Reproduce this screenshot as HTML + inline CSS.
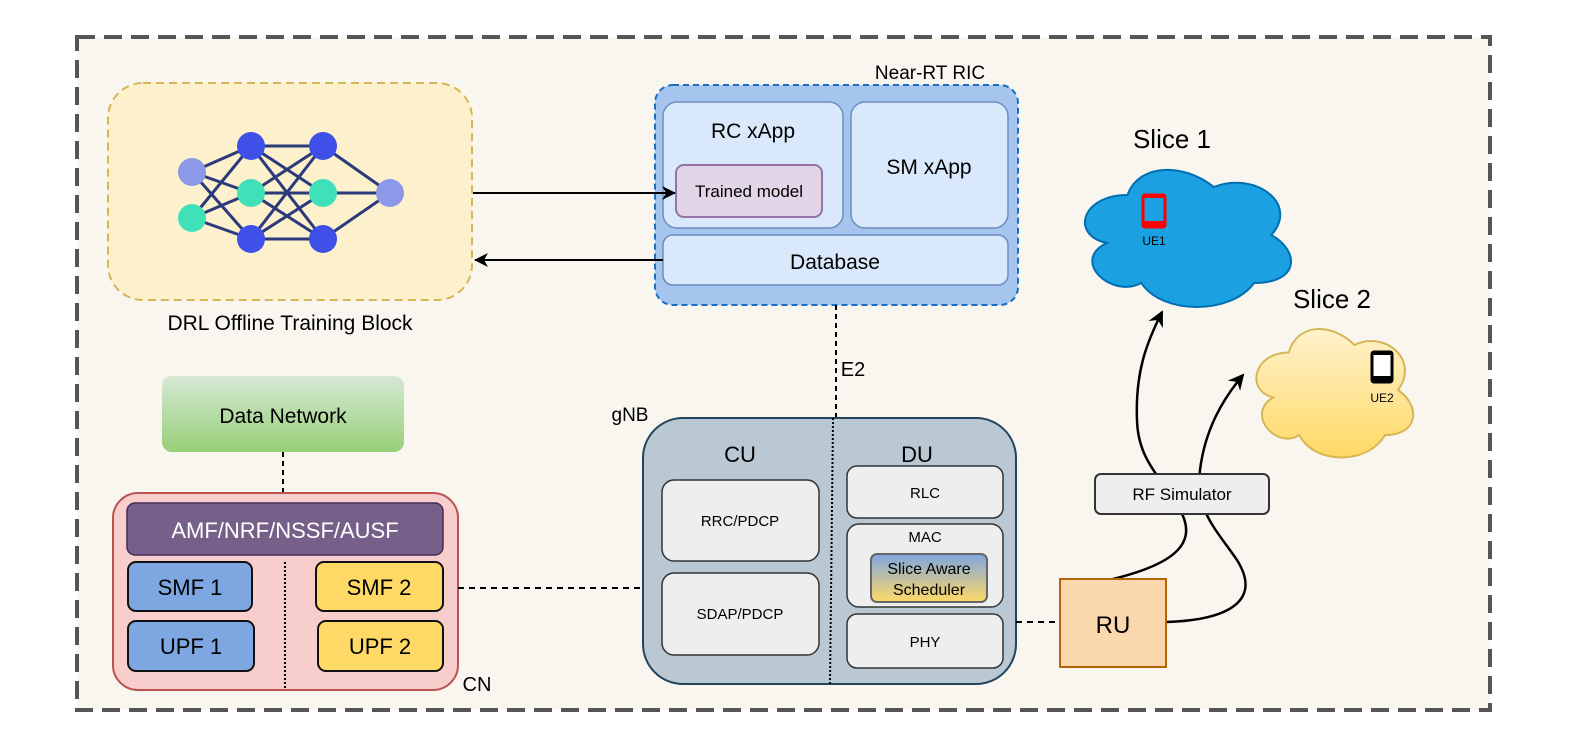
<!DOCTYPE html>
<html><head><meta charset="utf-8"><style>
html,body{margin:0;padding:0;background:#fff}
svg{display:block}
text{font-family:"Liberation Sans",sans-serif}
</style></head><body>
<svg width="1578" height="755" viewBox="0 0 1578 755" xmlns="http://www.w3.org/2000/svg">
<defs>
<marker id="ah" markerWidth="14" markerHeight="14" refX="13" refY="7" orient="auto" markerUnits="userSpaceOnUse"><path d="M0,0 L14,7 L0,14 L4,7 Z" fill="#000"/></marker>
<marker id="ah2" markerWidth="16" markerHeight="16" refX="14" refY="8" orient="auto" markerUnits="userSpaceOnUse"><path d="M0,0 L16,8 L0,16 L5,8 Z" fill="#000"/></marker>
<linearGradient id="gdn" x1="0" y1="0" x2="0" y2="1"><stop offset="0" stop-color="#d5e8d4"/><stop offset="1" stop-color="#97d077"/></linearGradient>
<linearGradient id="gsa" x1="0" y1="0" x2="0" y2="1"><stop offset="0" stop-color="#7ea6e0"/><stop offset="1" stop-color="#ffd966"/></linearGradient>
<linearGradient id="gs2" x1="0" y1="0" x2="0" y2="1"><stop offset="0" stop-color="#fff2cc"/><stop offset="1" stop-color="#ffd966"/></linearGradient>
</defs>
<rect width="1578" height="755" fill="#fff"/>
<rect x="77" y="37" width="1413" height="673" fill="#f8f6ee" stroke="#555" stroke-width="4" stroke-dasharray="18,9"/>

<rect x="108" y="83" width="364" height="217" rx="35" fill="#fdf0cc" stroke="#d6b656" stroke-width="2" stroke-dasharray="8,5"/>
<g stroke="#2b3a7a" stroke-width="3">
<path d="M192,172 L251,146 M192,172 L251,193 M192,172 L251,239 M192,218 L251,146 M192,218 L251,193 M192,218 L251,239"/>
<path d="M251,146 L323,146 M251,146 L323,193 M251,146 L323,239 M251,193 L323,146 M251,193 L323,193 M251,193 L323,239 M251,239 L323,146 M251,239 L323,193 M251,239 L323,239"/>
<path d="M323,146 L390,193 M323,193 L390,193 M323,239 L390,193"/>
</g>
<circle cx="192" cy="172" r="14" fill="#8c98e8"/><circle cx="192" cy="218" r="14" fill="#40e0b8"/>
<circle cx="251" cy="146" r="14" fill="#3e50e8"/><circle cx="251" cy="193" r="14" fill="#40e0b8"/><circle cx="251" cy="239" r="14" fill="#3e50e8"/>
<circle cx="323" cy="146" r="14" fill="#3e50e8"/><circle cx="323" cy="193" r="14" fill="#40e0b8"/><circle cx="323" cy="239" r="14" fill="#3e50e8"/>
<circle cx="390" cy="193" r="14" fill="#8c98e8"/>
<text x="290" y="330" font-size="21" text-anchor="middle">DRL Offline Training Block</text>

<text x="930" y="79" font-size="19" text-anchor="middle">Near-RT RIC</text>
<rect x="655" y="85" width="363" height="220" rx="18" fill="#a5c4ee" stroke="#1a6fc4" stroke-width="2" stroke-dasharray="6,4"/>
<rect x="663" y="102" width="180" height="126" rx="14" fill="#dae8fc" stroke="#6c8ebf" stroke-width="1.5"/>
<rect x="851" y="102" width="157" height="126" rx="14" fill="#dae8fc" stroke="#6c8ebf" stroke-width="1.5"/>
<rect x="663" y="235" width="345" height="50" rx="10" fill="#dae8fc" stroke="#6c8ebf" stroke-width="1.5"/>
<rect x="676" y="165" width="146" height="52" rx="8" fill="#e1d5e7" stroke="#9673a6" stroke-width="2"/>
<text x="753" y="138" font-size="21" text-anchor="middle">RC xApp</text>
<text x="929" y="174" font-size="21" text-anchor="middle">SM xApp</text>
<text x="835" y="269" font-size="21" text-anchor="middle">Database</text>
<text x="749" y="197" font-size="17" text-anchor="middle">Trained model</text>
<line x1="473" y1="193" x2="675" y2="193" stroke="#000" stroke-width="2" marker-end="url(#ah)"/>
<line x1="663" y1="260" x2="475" y2="260" stroke="#000" stroke-width="2" marker-end="url(#ah)"/>

<line x1="836" y1="305" x2="836" y2="418" stroke="#000" stroke-width="2" stroke-dasharray="5,4"/>
<text x="853" y="376" font-size="20" text-anchor="middle">E2</text>

<text x="630" y="421" font-size="19" text-anchor="middle">gNB</text>
<rect x="643" y="418" width="373" height="266" rx="40" fill="#bac8d3" stroke="#23445d" stroke-width="2"/>
<line x1="833" y1="418" x2="830" y2="684" stroke="#000" stroke-width="2" stroke-dasharray="2,2"/>
<text x="740" y="462" font-size="22" text-anchor="middle">CU</text>
<text x="917" y="462" font-size="22" text-anchor="middle">DU</text>
<g fill="#eeeeee" stroke="#333" stroke-width="1.5">
<rect x="662" y="480" width="157" height="81" rx="12"/>
<rect x="662" y="573" width="157" height="82" rx="12"/>
<rect x="847" y="466" width="156" height="52" rx="10"/>
<rect x="847" y="524" width="156" height="83" rx="12"/>
<rect x="847" y="614" width="156" height="54" rx="10"/>
</g>
<rect x="871" y="554" width="116" height="48" rx="6" fill="url(#gsa)" stroke="#666" stroke-width="2"/>
<g font-size="15" text-anchor="middle">
<text x="740" y="526">RRC/PDCP</text>
<text x="740" y="619">SDAP/PDCP</text>
<text x="925" y="498">RLC</text>
<text x="925" y="542">MAC</text>
<text x="925" y="647">PHY</text>
</g>
<text x="929" y="574" font-size="16" text-anchor="middle">Slice Aware</text>
<text x="929" y="595" font-size="16" text-anchor="middle">Scheduler</text>

<rect x="162" y="376" width="242" height="76" rx="10" fill="url(#gdn)"/>
<text x="283" y="423" font-size="21" text-anchor="middle">Data Network</text>
<line x1="283" y1="452" x2="283" y2="493" stroke="#000" stroke-width="2" stroke-dasharray="5,4"/>
<rect x="113" y="493" width="345" height="197" rx="25" fill="#f8cecc" stroke="#b85450" stroke-width="2"/>
<text x="477" y="691" font-size="20" text-anchor="middle">CN</text>
<rect x="127" y="503" width="316" height="52" rx="8" fill="#76608a" stroke="#432d57" stroke-width="1.5"/>
<text x="285" y="538" font-size="22" fill="#fff" text-anchor="middle">AMF/NRF/NSSF/AUSF</text>
<line x1="285" y1="562" x2="285" y2="690" stroke="#000" stroke-width="2" stroke-dasharray="2,2"/>
<g stroke="#111" stroke-width="2">
<rect x="128" y="562" width="124" height="49" rx="8" fill="#7ea6e0"/>
<rect x="128" y="621" width="126" height="50" rx="8" fill="#7ea6e0"/>
<rect x="316" y="562" width="127" height="49" rx="8" fill="#ffd966"/>
<rect x="318" y="621" width="125" height="50" rx="8" fill="#ffd966"/>
</g>
<g font-size="22" text-anchor="middle">
<text x="190" y="595">SMF 1</text>
<text x="191" y="654">UPF 1</text>
<text x="379" y="595">SMF 2</text>
<text x="380" y="654">UPF 2</text>
</g>
<line x1="458" y1="588" x2="643" y2="588" stroke="#000" stroke-width="2" stroke-dasharray="6,5"/>

<line x1="1016" y1="622" x2="1060" y2="622" stroke="#000" stroke-width="2" stroke-dasharray="6,5"/>
<path d="M1113,579 C1170,565 1200,545 1180,510 C1160,475 1138,460 1137,420 C1135,370 1148,340 1162,312" fill="none" stroke="#000" stroke-width="2.5" marker-end="url(#ah2)"/>
<path d="M1166,622 C1230,620 1262,600 1237,560 C1215,528 1195,510 1200,470 C1205,430 1222,400 1243,375" fill="none" stroke="#000" stroke-width="2.5" marker-end="url(#ah2)"/>
<rect x="1060" y="579" width="106" height="88" fill="#fad7ac" stroke="#b46504" stroke-width="2"/>
<text x="1113" y="633" font-size="24" text-anchor="middle">RU</text>
<rect x="1095" y="474" width="174" height="40" rx="6" fill="#eeeeee" stroke="#333" stroke-width="2"/>
<text x="1182" y="500" font-size="17" text-anchor="middle">RF Simulator</text>

<text x="1172" y="148" font-size="26" text-anchor="middle">Slice 1</text>
<path d="M1127.5,195 C1081.5,195 1070,235 1106.8,243 C1070,260.6 1111.4,299 1141.3,283 C1162,315 1231,315 1254,283 C1300,283 1300,251 1271.25,235 C1300,203 1254,171 1213.75,187 C1184,163 1139,163 1127.5,195 Z" fill="#1ba1e2" stroke="#006eaf" stroke-width="2"/>
<rect x="1143" y="195" width="22" height="32" rx="2" fill="none" stroke="#f00" stroke-width="3"/>
<rect x="1144" y="221" width="20" height="6" fill="#f00"/>
<rect x="1144" y="194" width="20" height="4" fill="#f00"/>
<text x="1154" y="245" font-size="12" text-anchor="middle">UE1</text>

<text x="1332" y="308" font-size="26" text-anchor="middle">Slice 2</text>
<path d="M1288.75,352.5 C1253.75,352.5 1245,390 1273,397.5 C1245,414 1276.5,450 1299.25,435 C1315,465 1367.5,465 1385,435 C1420,435 1420,405 1398.1,390 C1420,360 1385,330 1354.4,345 C1332,322.5 1297.5,322.5 1288.75,352.5 Z" fill="url(#gs2)" stroke="#d6b656" stroke-width="2"/>
<rect x="1372" y="352" width="20" height="30" rx="2" fill="#fff" stroke="#000" stroke-width="3"/>
<rect x="1372" y="376" width="20" height="6" fill="#000"/>
<rect x="1372" y="351" width="20" height="4" fill="#000"/>
<text x="1382" y="402" font-size="12" text-anchor="middle">UE2</text>
</svg>
</body></html>
